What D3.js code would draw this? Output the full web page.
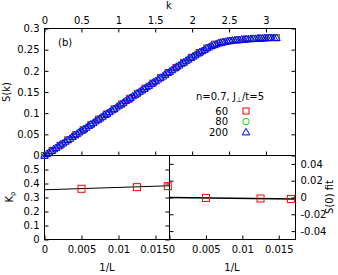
<!DOCTYPE html>
<html>
<head>
<meta charset="utf-8">
<script src="https://cdn.jsdelivr.net/npm/d3@7"></script>
<style>
  body { margin: 0; background: #fff; }
  svg { display: block; }
  text { font-family: "DejaVu Sans", sans-serif; font-size: 10px; fill: #000; }
</style>
</head>
<body>
<svg id="chart" width="338" height="275"></svg>
<script>
// lattice sizes and S(k), k_n = 2*pi*n/L, n = 0..L/2
var sizes = [60, 80, 200]
var colors = ["#ff0000", "#00e000", "#0000ff"]

var s60 = [0, .012, .024, .037, .049, .061, .073, .086, .098, .110, .122, .135, .147, .159, .171,
    .184, .196, .208, .220, .232, .243, .254, .263, .268, .271, .273, .275, .276, .277, .278, .278]

var s80 = [0, .009, .018, .028, .037, .046, .055, .064, .073, .083, .092, .101, .110, .119, .129,
    .138, .147, .156, .165, .175, .184, .193, .202, .211, .220, .229, .237, .246, .254, .261,
    .266, .269, .271, .273, .274, .275, .276, .277, .278, .278, .278]

var s200 = [0, .004, .007, .011, .015, .018, .022, .026, .029, .033, .037, .040, .044, .048, .051,
    .055, .059, .062, .066, .070, .074, .077, .081, .085, .088, .092, .096, .099, .103, .107,
    .110, .114, .118, .121, .125, .129, .132, .136, .140, .143, .147, .151, .154, .158, .162,
    .165, .169, .173, .176, .180, .184, .187, .191, .195, .198, .202, .206, .210, .213, .217,
    .220, .224, .227, .231, .234, .237, .241, .244, .247, .250, .254, .256, .259, .261, .263,
    .265, .266, .268, .269, .270, .271, .272, .272, .273, .273, .274, .274, .275, .275, .276,
    .276, .276, .277, .277, .277, .277, .278, .278, .278, .278, .278]

var invL = [1 / 200, 1 / 80, 1 / 60]
var krho = [0.362, 0.374, 0.381]
var krhoFit = [0.355, 1.7]      // intercept, slope
var s0 = [-0.0005, -0.0012, -0.0017]
var s0Fit = [0.0, -0.1]

var kTicks = [0, 0.5, 1, 1.5, 2, 2.5, 3]
var skTicks = [0, 0.05, 0.1, 0.15, 0.2, 0.25, 0.3]
var krTicks = [0, 0.1, 0.2, 0.3, 0.4, 0.5]
var invTicks = [0, 0.005, 0.01, 0.015]
var s0Ticks = [-0.04, -0.02, 0, 0.02, 0.04]

var svg = d3.select("#chart")
var fmt = (d) => String(d)

var L = 44.5, R = 295.5, T = 28.5, M = 155.5, B = 239.5, D = 169.5

var x = d3.scaleLinear().domain([0, 3.4]).range([L, R])
var y = d3.scaleLinear().domain([0, 0.3]).range([M, T])
var xl = d3.scaleLinear().domain([0, 0.0169]).range([L, D])
var yl = d3.scaleLinear().domain([0, 0.6]).range([B, M])
var xr = d3.scaleLinear().domain([0, 0.0173]).range([D, R])
var yr = d3.scaleLinear().domain([-0.05, 0.05]).range([B, M])

var axis = (gen, tx, ty, labels, pad) => {
    var g = svg.append("g")
        .attr("transform", "translate(" + tx + "," + ty + ")")
        .call(gen.tickSize(-4).tickPadding(pad).tickFormat(labels ? fmt : ""))
    g.select(".domain").remove()
    g.selectAll("line").attr("stroke", "#000")
    g.selectAll("text").attr("fill", "#000").style("font-size", "10px").style("font-family", "DejaVu Sans")
    return g
}

// top panel
axis(d3.axisTop(x).tickValues(kTicks), 0, T, true, 5)
axis(d3.axisBottom(x).tickValues(kTicks), 0, M, false, 0)
axis(d3.axisLeft(y).tickValues(skTicks), L, 0, true, 5)
axis(d3.axisRight(y).tickValues(skTicks), R, 0, false, 0)

// bottom left
axis(d3.axisLeft(yl).tickValues(krTicks), L, 0, true, 5)
axis(d3.axisRight(yl).tickValues(krTicks), D, 0, false, 0)
axis(d3.axisBottom(xl).tickValues(invTicks), 0, B, true, 6)
    .selectAll("text").filter((d) => d === 0.015).attr("dx", -1.5)

// bottom right
axis(d3.axisRight(yr).tickValues(s0Ticks), R, 0, true, 5)
axis(d3.axisLeft(yr).tickValues(s0Ticks), D, 0, false, 0)
axis(d3.axisBottom(xr).tickValues(invTicks), 0, B, true, 6)
    .selectAll("text").filter((d) => d === 0).attr("dx", 2)

var frame = svg.append("g").attr("fill", "none").attr("stroke", "#000")
frame.append("rect").attr("x", L).attr("y", T).attr("width", R - L).attr("height", M - T)
frame.append("rect").attr("x", L).attr("y", M).attr("width", D - L).attr("height", B - M)
frame.append("rect").attr("x", D).attr("y", M).attr("width", R - D).attr("height", B - M)

var shapes = [
    (g) => g.append("rect").attr("x", -3).attr("y", -3).attr("width", 6).attr("height", 6),
    (g) => g.append("circle").attr("r", 3.2),
    (g) => g.append("path").attr("d", "M0,-3.8L3.8,2.7L-3.8,2.7Z")
]

var series = [s60, s80, s200]
series.forEach((vals, i) => {
    var pts = vals.map((v, n) => ({k: 2 * Math.PI * n / sizes[i], s: v}))
    svg.append("g")
        .attr("fill", "none").attr("stroke", colors[i]).attr("stroke-width", 1)
        .selectAll("g")
        .data(pts)
        .enter().append("g")
        .attr("transform", (d) => "translate(" + x(d.k) + "," + y(d.s) + ")")
        .each(function() { shapes[i](d3.select(this)) })
})

// legend
svg.append("text").attr("x", 230).attr("y", 100).attr("text-anchor", "middle")
    .call((t) => {
        t.append("tspan").text("n=0.7, J")
        t.append("tspan").attr("dy", 2).style("font-size", "7px").text("⊥")
        t.append("tspan").attr("dy", -2).text("/t=5")
    })
sizes.forEach((n, i) => {
    var ly = 111 + i * 10.6
    svg.append("text").attr("x", 228).attr("y", ly + 3.5).attr("text-anchor", "end").text(n)
    var g = svg.append("g").attr("transform", "translate(246," + ly + ")")
        .attr("fill", "none").attr("stroke", colors[i])
    shapes[i](g)
})

// fits and finite-size points
svg.append("line")
    .attr("x1", xl(0)).attr("y1", yl(krhoFit[0]))
    .attr("x2", xl(0.0169)).attr("y2", yl(krhoFit[0] + krhoFit[1] * 0.0169))
    .attr("stroke", "#000").attr("stroke-width", 1)
svg.append("line")
    .attr("x1", xr(0)).attr("y1", yr(s0Fit[0]))
    .attr("x2", xr(0.0173)).attr("y2", yr(s0Fit[0] + s0Fit[1] * 0.0173))
    .attr("stroke", "#000").attr("stroke-width", 1.5)

var sq = (sx, sy, vals) => {
    svg.append("g").attr("fill", "none").attr("stroke", colors[0])
        .selectAll("rect").data(vals).enter().append("rect")
        .attr("x", (d, i) => sx(invL[i]) - 3.5).attr("y", (d) => sy(d) - 3.5)
        .attr("width", 7).attr("height", 7)
}
sq(xl, yl, krho)
sq(xr, yr, s0)

// axis titles
svg.append("text").attr("x", 169).attr("y", 9).attr("text-anchor", "middle").text("k")
svg.append("text").attr("x", 58).attr("y", 46).text("(b)")
svg.append("text").attr("transform", "translate(10,92) rotate(-90)").attr("text-anchor", "middle").text("S(k)")
svg.append("text").attr("transform", "translate(13,197) rotate(-90)").attr("text-anchor", "middle")
    .call((t) => {
        t.append("tspan").text("K")
        t.append("tspan").attr("dy", 2).style("font-size", "7px").text("ρ")
    })
svg.append("text").attr("transform", "translate(333,197) rotate(-90)").attr("text-anchor", "middle").text("S(0) fit")
svg.append("text").attr("x", 107).attr("y", 271).attr("text-anchor", "middle").text("1/L")
svg.append("text").attr("x", 232).attr("y", 271).attr("text-anchor", "middle").text("1/L")
</script>
</body>
</html>
